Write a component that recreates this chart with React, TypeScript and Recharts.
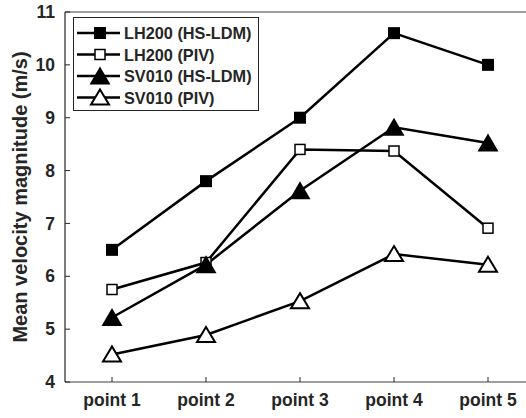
import React from "react";
import { LineChart, Line, XAxis, YAxis, Legend, Label } from "recharts";

const categories = ["point 1", "point 2", "point 3", "point 4", "point 5"];
const lh200Ldm = [6.5, 7.8, 9.0, 10.6, 10.0];
const lh200Piv = [5.75, 6.26, 8.4, 8.37, 6.91];
const sv010Ldm = [5.22, 6.22, 7.62, 8.82, 8.52];
const sv010Piv = [4.52, 4.89, 5.53, 6.42, 6.22];
const yTicks = [4, 5, 6, 7, 8, 9, 10, 11];

const data = categories.map((name, i) => ({
  pos: i + 1,
  name,
  lh200Ldm: lh200Ldm[i],
  lh200Piv: lh200Piv[i],
  sv010Ldm: sv010Ldm[i],
  sv010Piv: sv010Piv[i],
}));

const FONT = "'Liberation Sans', Arial, sans-serif";
const TEXT = "#262626";

type Kind = "fsq" | "osq" | "ftri" | "otri";

function Marker({ kind, cx, cy }: { kind: Kind; cx: number; cy: number }) {
  if (kind === "fsq") {
    return <rect x={cx - 6} y={cy - 6} width={12} height={12} fill="#000" />;
  }
  if (kind === "osq") {
    return <rect x={cx - 5} y={cy - 5} width={10} height={10} fill="#fff" stroke="#000" strokeWidth={1.5} />;
  }
  if (kind === "ftri") {
    const w = 10.5, h = 9.5;
    return <polygon points={`${cx},${cy - h} ${cx + w},${cy + h - 1} ${cx - w},${cy + h - 1}`} fill="#000" />;
  }
  const w = 9, h = 8;
  return (
    <polygon
      points={`${cx},${cy - h} ${cx + w},${cy + h - 1} ${cx - w},${cy + h - 1}`}
      fill="#fff"
      stroke="#000"
      strokeWidth={2}
      strokeLinejoin="miter"
    />
  );
}

const dotFor = (kind: Kind) => (props: any) => (
  <Marker key={`${kind}-${props.index}`} kind={kind} cx={props.cx} cy={props.cy} />
);

const seriesList: { key: string; label: string; kind: Kind }[] = [
  { key: "lh200Ldm", label: "LH200 (HS-LDM)", kind: "fsq" },
  { key: "lh200Piv", label: "LH200 (PIV)", kind: "osq" },
  { key: "sv010Ldm", label: "SV010 (HS-LDM)", kind: "ftri" },
  { key: "sv010Piv", label: "SV010 (PIV)", kind: "otri" },
];

function LegendBox() {
  return (
    <svg width={186} height={94} style={{ display: "block" }}>
      <rect x={0.5} y={0.5} width={185} height={93} fill="#fff" stroke="#262626" strokeWidth={1} />
      {seriesList.map((s, i) => {
        const y = 16 + i * 21.5;
        return (
          <g key={s.key}>
            <line x1={4} x2={47} y1={y} y2={y} stroke="#000" strokeWidth={2.5} />
            <Marker kind={s.kind} cx={27} cy={y} />
            <text x={51} y={y + 6} fontFamily={FONT} fontWeight="bold" fontSize={16.3} fill={TEXT}>
              {s.label}
            </text>
          </g>
        );
      })}
    </svg>
  );
}

export default function App() {
  return (
    <div
      style={{
        position: "fixed",
        left: 0,
        top: 0,
        width: 526,
        height: 418,
        overflow: "hidden",
        background: "#fff",
      }}
    >
      <LineChart width={545} height={418} data={data} margin={{ top: 11, right: 10, bottom: 6, left: 0 }}>
        <XAxis
          xAxisId="top"
          orientation="top"
          dataKey="pos"
          type="number"
          domain={[0.5, 5.5]}
          ticks={[1, 2, 3, 4, 5]}
          height={1}
          tick={false}
          tickSize={-5}
          axisLine={{ stroke: "#7f7f7f", strokeWidth: 1.5 }}
          tickLine={{ stroke: "#262626" }}
        />
        <XAxis
          dataKey="pos"
          type="number"
          domain={[0.5, 5.5]}
          ticks={[1, 2, 3, 4, 5]}
          tickFormatter={(v: number) => categories[v - 1]}
          height={30}
          tickSize={-5}
          tickMargin={17}
          axisLine={{ stroke: "#404040", strokeWidth: 1.2 }}
          tickLine={{ stroke: "#262626" }}
          tick={{ fill: TEXT, fontFamily: FONT, fontWeight: "bold", fontSize: 17.5 }}
        />
        <YAxis
          domain={[4, 11]}
          ticks={yTicks}
          width={65}
          tickSize={-5}
          tickMargin={15}
          axisLine={{ stroke: "#262626", strokeWidth: 1.2 }}
          tickLine={{ stroke: "#262626" }}
          tick={{ fill: TEXT, fontFamily: FONT, fontWeight: "bold", fontSize: 17.5 }}
        >
          <Label
            content={(props: any) => {
              const vb = props.viewBox || {};
              const cx = 20;
              const cy = (vb.y || 0) + (vb.height || 0) / 2;
              return (
                <text
                  x={cx}
                  y={cy}
                  transform={`rotate(-90 ${cx} ${cy})`}
                  textAnchor="middle"
                  dominantBaseline="central"
                  fontFamily={FONT}
                  fontWeight="bold"
                  fontSize={20}
                  fill={TEXT}
                >
                  Mean velocity magnitude (m/s)
                </text>
              );
            }}
          />
        </YAxis>
        <Legend
          layout="horizontal"
          verticalAlign="middle"
          align="center"
          content={() => <LegendBox />}
          wrapperStyle={{ top: 17, left: 73, width: 186, height: 94 }}
        />
        {seriesList.map((s) => (
          <Line
            key={s.key}
            dataKey={s.key}
            type="linear"
            stroke="#000"
            strokeWidth={2.5}
            dot={dotFor(s.kind)}
            activeDot={false}
            isAnimationActive={false}
          />
        ))}
      </LineChart>
    </div>
  );
}
